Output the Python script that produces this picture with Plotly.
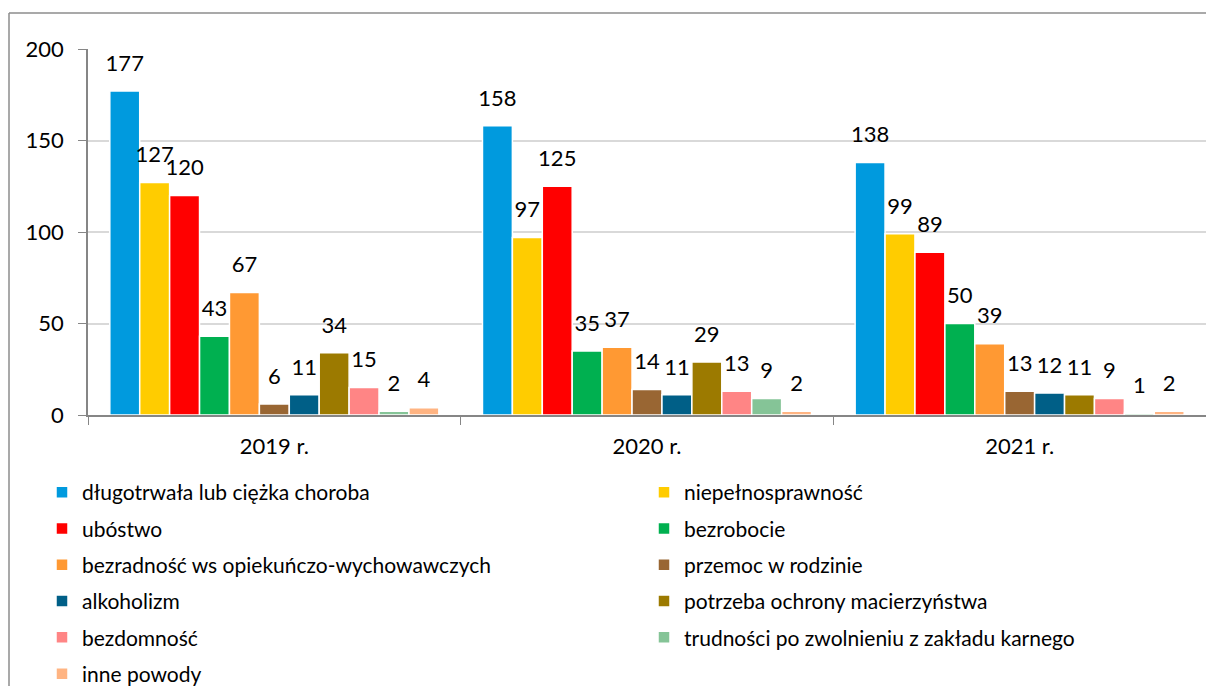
import plotly.graph_objects as go

years = ["2019 r.", "2020 r.", "2021 r."]
series_names = [
    "długotrwała lub ciężka choroba",
    "niepełnosprawność",
    "ubóstwo",
    "bezrobocie",
    "bezradność ws opiekuńczo-wychowawczych",
    "przemoc w rodzinie",
    "alkoholizm",
    "potrzeba ochrony macierzyństwa",
    "bezdomność",
    "trudności po zwolnieniu z zakładu karnego",
    "inne powody",
]
values_2019 = [177, 127, 120, 43, 67, 6, 11, 34, 15, 2, 4]
values_2020 = [158, 97, 125, 35, 37, 14, 11, 29, 13, 9, 2]
values_2021 = [138, 99, 89, 50, 39, 13, 12, 11, 9, 1, 2]
colors = ["#009ADE", "#FFCC00", "#FF0000", "#00B050", "#FF9933", "#996633",
          "#005F87", "#9C7A00", "#FF8585", "#85C497", "#FFB482"]

FONT = "Lato"
W, H = 1206, 686
L, T, B = 88, 49, 271
PW, PH = W - L, H - T - B


def px_x(px):
    return (px - L) / PW


def px_y(py):
    return (T + PH - py) / PH


fig = go.Figure()
for i, name in enumerate(series_names):
    vals = [values_2019[i], values_2020[i], values_2021[i]]
    fig.add_trace(go.Bar(
        x=years, y=vals, name=name,
        marker=dict(color=colors[i], line=dict(color="white", width=1.5)),
        legend="legend" if i % 2 == 0 else "legend2",
        legendgroup=name,
    ))
# data labels, aligned with the grouped bars
for i, name in enumerate(series_names):
    vals = [values_2019[i], values_2020[i], values_2021[i]]
    fig.add_trace(go.Scatter(
        x=years, y=vals, mode="markers+text",
        marker=dict(size=22, color="rgba(0,0,0,0)"),
        text=[str(v) for v in vals], textposition="top center",
        textfont=dict(family=FONT, size=22, color="black"),
        cliponaxis=False, showlegend=False, hoverinfo="skip",
    ))

leg_font = dict(family=FONT, size=21, color="black")
fig.update_layout(
    width=W, height=H,
    margin=dict(l=L, r=0, t=T, b=B, autoexpand=False),
    paper_bgcolor="white", plot_bgcolor="white",
    barmode="group", bargap=0.117, bargroupgap=0,
    scattermode="group", scattergap=0.117,
    font=dict(family=FONT, size=22, color="black"),
    legend=dict(x=px_x(42), y=px_y(472), xanchor="left", yanchor="top",
                orientation="v", tracegroupgap=6, font=leg_font,
                bgcolor="rgba(0,0,0,0)"),
    legend2=dict(x=px_x(644), y=px_y(472), xanchor="left", yanchor="top",
                 orientation="v", tracegroupgap=6, font=leg_font,
                 bgcolor="rgba(0,0,0,0)"),
)
fig.update_xaxes(
    showline=True, linecolor="#868686", linewidth=1.5,
    ticks="outside", tickson="boundaries", ticklen=8, tickcolor="#868686",
    ticklabelstandoff=11,
    tickfont=dict(family=FONT, size=22, color="black"),
)
fig.update_yaxes(
    range=[0, 200], tickvals=[0, 50, 100, 150, 200],
    showline=True, linecolor="#868686", linewidth=1.5,
    ticks="outside", ticklen=8, tickcolor="#868686",
    ticklabelstandoff=10,
    showgrid=True, gridcolor="#D9D9D9", gridwidth=1.5,
    zeroline=False,
    tickfont=dict(family=FONT, size=22, color="black"),
)
# outer chart border
fig.add_shape(type="line", xref="paper", yref="paper",
              x0=px_x(9), x1=px_x(9), y0=px_y(13), y1=px_y(H + 10),
              line=dict(color="#8C8C8C", width=1.5))
fig.add_shape(type="line", xref="paper", yref="paper",
              x0=px_x(9), x1=px_x(W + 10), y0=px_y(13), y1=px_y(13),
              line=dict(color="#8C8C8C", width=1.5))

fig.write_html(
    "out.html",
    config={"displayModeBar": False},
    post_script=(
        "document.documentElement.style.overflow='hidden';"
        "document.body.style.margin='0';"
        "document.body.style.overflow='hidden';"
    ),
)
